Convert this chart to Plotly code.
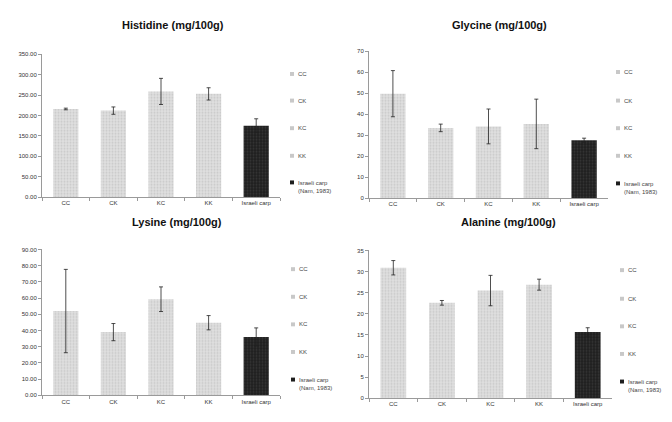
import plotly.graph_objects as go

categories = ["CC", "CK", "KC", "KK", "Israeli carp"]
legend_names = ["CC", "CK", "KC", "KK", "Israeli carp<br>(Nam, 1983)"]

histidine = [216, 212, 259, 253, 175]
histidine_err = [2, 9, 32, 15, 17]
glycine = [49.8, 33.5, 34.2, 35.4, 27.6]
glycine_err = [11, 1.8, 8.3, 11.8, 1.0]
lysine = [52.0, 39.0, 59.3, 44.8, 36.0]
lysine_err = [25.7, 5.3, 7.6, 4.4, 5.6]
alanine = [30.9, 22.6, 25.5, 26.9, 15.7]
alanine_err = [1.7, 0.55, 3.6, 1.3, 1.0]

titles = ["Histidine (mg/100g)", "Glycine (mg/100g)", "Lysine (mg/100g)", "Alanine (mg/100g)"]
datasets = [(histidine, histidine_err), (glycine, glycine_err), (lysine, lysine_err), (alanine, alanine_err)]

W, H = 672, 422
# panel pixel boxes: x0, x1, ytop, ybottom
boxes = [(42, 280, 52, 197), (369, 608, 49, 198), (42, 280, 250, 398), (369, 612, 251, 401)]
yranges = [(0, 350, 50, ".2f"), (0, 70, 10, "d"), (0, 90, 10, ".2f"), (0, 35, 5, "d")]
title_pos = [(173, 22), (499, 22), (177, 222), (508, 222)]
# legend symbol x, and y of each entry
legend_x = [292, 618, 293, 622]
legend_y = [[72, 99, 127, 155, 182], [70, 99, 127, 155, 183],
            [270, 298, 326, 354, 382], [271, 300, 328, 356, 384]]

fig = go.Figure()
FONT = "Liberation Sans, Arial, sans-serif"
LIGHT = "#d8d8d8"
DARK = "#1e1e1e"
for p, (vals, errs) in enumerate(datasets):
    ax = "" if p == 0 else str(p + 1)
    for i, cat in enumerate(categories):
        dark = i == 4
        fig.add_trace(go.Bar(
            x=[cat], y=[vals[i]], name=legend_names[i],
            xaxis="x" + ax, yaxis="y" + ax,
            width=0.53,
            marker=dict(
                color=DARK if dark else LIGHT,
                line=dict(width=0),
                pattern=dict(shape=".", size=3, solidity=0.35,
                             fgcolor="#505050" if dark else "#b0b0b0",
                             bgcolor=DARK if dark else "#e0e0e0",
                             fillmode="overlay"),
            ),
            error_y=dict(type="data", array=[errs[i]], visible=True,
                         color="#222222", thickness=0.8, width=2),
            showlegend=False,
        ))
    x0, x1, yt, yb = boxes[p]
    lo, hi, dt, fmt = yranges[p]
    fig.layout["xaxis" + ax] = dict(
        domain=[x0 / W, x1 / W], anchor="y" + ax,
        type="category", categoryorder="array", categoryarray=categories,
        showline=True, linecolor="#9a9a9a", linewidth=1,
        ticks="outside", tickson="boundaries", ticklen=3, tickcolor="#9a9a9a",
        tickfont=dict(size=6, color="#333333", family=FONT),
        showgrid=False, zeroline=False, fixedrange=True,
    )
    fig.layout["yaxis" + ax] = dict(
        domain=[1 - yb / H, 1 - yt / H], anchor="x" + ax,
        range=[lo, hi], dtick=dt, tickformat=fmt,
        showline=True, linecolor="#9a9a9a", linewidth=1,
        ticks="outside", ticklen=3, tickcolor="#9a9a9a",
        tickfont=dict(size=6, color="#333333", family=FONT),
        showgrid=False, zeroline=False,
    )
    # legend (symbols + texts)
    sx = legend_x[p]
    for i, nm in enumerate(legend_names):
        sy = legend_y[p][i]
        col = DARK if i == 4 else "#c8c8c8"
        fig.add_shape(type="rect", xref="paper", yref="paper",
                      x0=(sx - 2) / W, x1=(sx + 2) / W,
                      y0=1 - (sy + 2) / H, y1=1 - (sy - 2) / H,
                      fillcolor=col, line=dict(width=0))
        fig.add_annotation(text=nm, x=(sx + 4) / W,
                           y=1 - (sy - 4.5) / H if i == 4 else 1 - sy / H,
                           xref="paper", yref="paper", showarrow=False,
                           xanchor="left", yanchor="top" if i == 4 else "middle",
                           align="left",
                           font=dict(size=6, color="#444444", family=FONT))
    tx, ty = title_pos[p]
    fig.add_annotation(text="<b>" + titles[p] + "</b>", x=tx / W, y=1 - ty / H,
                       xref="paper", yref="paper", showarrow=False,
                       xanchor="center", yanchor="middle",
                       font=dict(size=11, color="#111111", family=FONT))

fig.update_layout(
    width=W, height=H, margin=dict(l=0, r=0, t=0, b=0),
    paper_bgcolor="white", plot_bgcolor="white",
    barmode="overlay", showlegend=False,
)
fig.write_html("out.html", config={"displayModeBar": False},
               post_script="document.body.style.margin='0';document.body.style.overflow='hidden';")
